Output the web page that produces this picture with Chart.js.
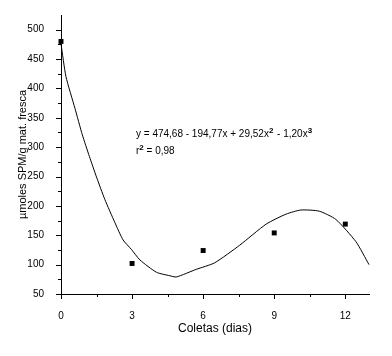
<!DOCTYPE html>
<html>
<head>
<meta charset="utf-8">
<script src="https://cdn.jsdelivr.net/npm/chart.js@4/dist/chart.umd.min.js"></script>
<style>
  html, body { margin: 0; padding: 0; background: #fff; }
  #wrap { width: 392px; height: 356px; }
</style>
</head>
<body>
<div id="wrap"><canvas id="spmChart" width="392" height="356"></canvas></div>
<script>
// measured points (squares)
const days = [0, 3, 6, 9, 12];
const spm = [480, 102, 124, 154, 169];

// fitted curve
const curveX = [0, 0.21, 0.59, 0.9, 1.2, 1.5, 1.85, 2.27, 2.62, 2.97, 3.33, 4.03, 4.6, 4.87, 5.71, 6.48, 7.54, 8.66, 9.5, 10.13, 10.9, 11.6, 12.45, 13];
const curveY = [476, 420, 366, 321, 284, 249, 211, 172, 142, 126, 108, 87, 81, 79, 92, 103, 133, 169, 186, 193, 191, 177, 139, 100];

// axis ticks
const xTicks = [0, 3, 6, 9, 12];
const xMinor = [1.5, 4.5, 7.5, 10.5];
const yTicks = [50, 100, 150, 200, 250, 300, 350, 400, 450, 500];
const yMinor = [75, 125, 175, 225, 275, 325, 375, 425, 475];

const FONT = "'Liberation Sans', Arial, sans-serif";

// outward tick marks, long for labelled ones and short for the in-between ones
const tickMarks = {
    id: 'tickMarks',
    afterDraw(chart) {
        const ctx = chart.ctx;
        const xs = chart.scales.x, ys = chart.scales.y;
        const x0 = xs.left, y0 = ys.bottom;
        ctx.save();
        ctx.strokeStyle = '#000';
        ctx.lineWidth = 1;
        ctx.beginPath();
        xTicks.forEach(v => { const p = Math.round(xs.getPixelForValue(v)) + 0.5; ctx.moveTo(p, y0); ctx.lineTo(p, y0 + 5); });
        xMinor.forEach(v => { const p = Math.round(xs.getPixelForValue(v)) + 0.5; ctx.moveTo(p, y0); ctx.lineTo(p, y0 + 3); });
        yTicks.forEach(v => { const p = Math.round(ys.getPixelForValue(v)) + 0.5; ctx.moveTo(x0, p); ctx.lineTo(x0 - 5, p); });
        yMinor.forEach(v => { const p = Math.round(ys.getPixelForValue(v)) + 0.5; ctx.moveTo(x0, p); ctx.lineTo(x0 - 3, p); });
        ctx.stroke();
        ctx.restore();
    }
};

// equation text with superscripts
const equation = {
    id: 'equation',
    afterDraw(chart) {
        const ctx = chart.ctx;
        ctx.save();
        ctx.fillStyle = '#000';
        ctx.textBaseline = 'alphabetic';
        const parts = [
            ['y = 474,68 - 194,77x + 29,52x', false], ['2', true],
            [' - 1,20x', false], ['3', true]
        ];
        let x = 136, y = 137;
        parts.forEach(([t, sup]) => {
            ctx.font = sup ? 'bold 8px ' + FONT : '10px ' + FONT;
            ctx.fillText(t, x, sup ? y - 4 : y);
            x += ctx.measureText(t).width + (sup ? 1 : 0);
        });
        x = 136; y = 154;
        [['r', false], ['2', true], [' = 0,98', false]].forEach(([t, sup]) => {
            ctx.font = sup ? 'bold 8px ' + FONT : '10px ' + FONT;
            ctx.fillText(t, x, sup ? y - 4 : y);
            x += ctx.measureText(t).width;
        });
        ctx.restore();
    }
};

const ctx = document.getElementById('spmChart').getContext('2d');

new Chart(ctx, {
    type: 'scatter',
    data: {
        datasets: [{
            label: 'SPM',
            data: days.map((d, i) => ({ x: d, y: spm[i] })),
            pointStyle: 'rect',
            pointRadius: 3.5,
            backgroundColor: '#000',
            borderColor: '#000',
            borderWidth: 0,
            clip: false
        }, {
            label: 'ajuste',
            type: 'line',
            data: curveX.map((d, i) => ({ x: d, y: curveY[i] })),
            borderColor: '#000',
            borderWidth: 1,
            pointRadius: 0,
            tension: 0.2,
            fill: false,
            clip: false
        }]
    },
    options: {
        responsive: false,
        animation: false,
        layout: { padding: { left: 0, right: 23, top: 7, bottom: 0 } },
        plugins: { legend: { display: false }, tooltip: { enabled: false } },
        scales: {
            x: {
                type: 'linear',
                min: 0,
                max: 13,
                afterBuildTicks: s => { s.ticks = xTicks.map(v => ({ value: v })); },
                afterFit: s => { s.height = 62; },
                grid: { display: false },
                border: { display: true, color: '#000', width: 1 },
                ticks: { color: '#000', padding: 8, maxRotation: 0, font: { family: FONT, size: 10 } },
                title: { display: true, text: 'Coletas (dias)', color: '#000', padding: { top: 0, bottom: 20 }, font: { family: FONT, size: 12 } }
            },
            y: {
                type: 'linear',
                min: 50,
                max: 525,
                afterBuildTicks: s => { s.ticks = yTicks.map(v => ({ value: v })); },
                afterFit: s => { s.width = 61; },
                grid: { display: false },
                border: { display: true, color: '#000', width: 1 },
                ticks: { color: '#000', padding: 9, font: { family: FONT, size: 10 } },
                title: { display: true, text: 'µmoles SPM/g mat. fresca', color: '#000', padding: { top: 16, bottom: 0 }, font: { family: FONT, size: 11 } }
            }
        }
    },
    plugins: [tickMarks, equation]
});
</script>
</body>
</html>
